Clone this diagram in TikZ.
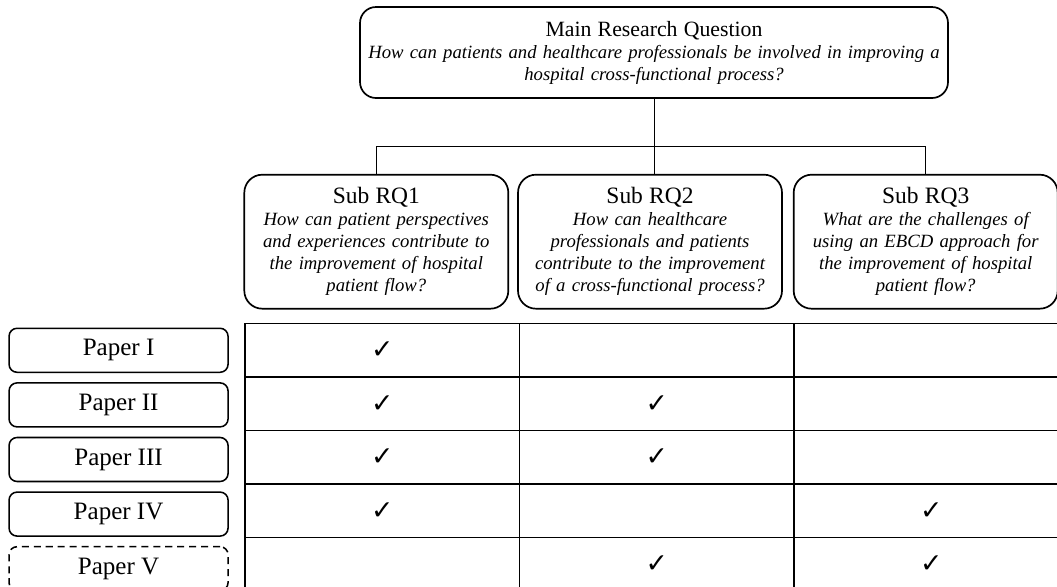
\documentclass[tikz,border=0pt]{standalone}
\usepackage{amsfonts,amsmath,amssymb}
\usepackage{fontspec}
\setmainfont{Liberation Serif}
\newfontfamily\symbolfont{DejaVu Sans}
\usepackage{xcolor}
\usepackage{tikz}
\usetikzlibrary{positioning}
\newcommand{\maintitlefont}{\fontsize{15.5}{18}\selectfont\upshape}
\newcommand{\subtitlefont}{\fontsize{16.7}{19}\selectfont\upshape}
\newcommand{\questfont}{\fontsize{13.3}{15.65}\selectfont\itshape}
\newcommand{\paperfont}{\fontsize{17.8}{20}\selectfont}
\newcommand{\tick}{{\symbolfont\bfseries\fontsize{19}{20}\selectfont ✓}}
\tikzstyle{block_main} = [rectangle, draw, line width=1.2pt, rounded corners=0.4cm,
    text width=14.5cm, align=center, minimum width=14.7cm, minimum height=2.275cm, inner sep=0pt, font=\questfont]
\tikzstyle{block_sub} = [rectangle, draw, line width=1.2pt, rounded corners=0.45cm,
    text width=6.4cm, align=center, minimum width=6.6cm, minimum height=3.35cm, inner sep=0pt, font=\questfont]
\tikzstyle{block_paper} = [rectangle, draw, line width=1.1pt, rounded corners=0.2cm,
    minimum width=5.475cm, minimum height=1.1cm, outer sep=0pt, font=\paperfont]
\tikzstyle{block_paper_dashed} = [block_paper, dash pattern=on 5pt off 3.5pt]
\tikzstyle{cell} = [rectangle, draw, line width=0.9pt, minimum width=6.8625cm, minimum height=1.3375cm,
    inner sep=0pt, outer sep=0pt]
\tikzstyle{line} = [draw, line width=0.7pt]

\begin{document}
\begin{tikzpicture}[node distance = 1cm, auto]
    \useasboundingbox (0,0) rectangle (26.425,-14.65);
    % Place nodes
    \node [block_main] (main) at (16.35,-1.3125) {{\maintitlefont Main Research Question}\\
        How can patients and healthcare professionals be involved in improving a\\ hospital cross-functional process?};
    \node [block_sub, below=1.875cm of main, xshift=-0.1cm] (sub2) {{\subtitlefont Sub RQ2}\\
        How can healthcare\\ professionals and patients\\ contribute to the improvement\\ of a cross-functional process?};
    \node [block_sub, left=0.2cm of sub2] (sub1) {{\subtitlefont Sub RQ1}\\
        How can patient perspectives\\ and experiences contribute to\\ the improvement of hospital\\ patient flow?};
    \node [block_sub, right=0.25cm of sub2] (sub3) {{\subtitlefont Sub RQ3}\\
        What are the challenges of\\ using an EBCD approach for\\ the improvement of hospital\\ patient flow?};
    \coordinate [below=1.2cm of main.south] (bar);

    % Table
    \node [cell, below=0.35cm of sub1, xshift=0.15cm] (c11) {\tick};
    \node [cell, right=0cm of c11] (c12) {};
    \node [cell, right=0cm of c12] (c13) {};
    \node [cell, below=0cm of c11] (c21) {\tick};
    \node [cell, right=0cm of c21] (c22) {\tick};
    \node [cell, right=0cm of c22] (c23) {};
    \node [cell, below=0cm of c21] (c31) {\tick};
    \node [cell, right=0cm of c31] (c32) {\tick};
    \node [cell, right=0cm of c32] (c33) {};
    \node [cell, below=0cm of c31] (c41) {\tick};
    \node [cell, right=0cm of c41] (c42) {};
    \node [cell, right=0cm of c42] (c43) {\tick};
    \node [cell, below=0cm of c41] (c51) {};
    \node [cell, right=0cm of c51] (c52) {\tick};
    \node [cell, right=0cm of c52] (c53) {\tick};

    % Papers
    \node [block_paper, left=0.425cm of c11] (p1) {Paper I};
    \node [block_paper, below=0.265cm of p1] (p2) {Paper II};
    \node [block_paper, below=0.265cm of p2] (p3) {Paper III};
    \node [block_paper, below=0.265cm of p3] (p4) {Paper IV};
    \node [block_paper_dashed, below=0.265cm of p4] (p5) {Paper V};

    % Draw edges
    \path [line] (main.south) -- (main.south |- sub2.north);
    \path [line] (sub1.north) |- (bar) -| (sub3.north);
\end{tikzpicture}
\end{document}
